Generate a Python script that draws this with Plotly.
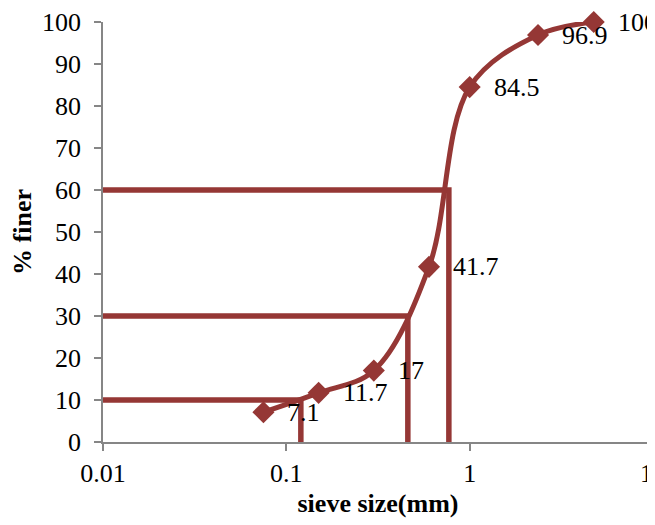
import math
import plotly.graph_objects as go

# Data
sieve_mm = [0.075, 0.15, 0.3, 0.6, 1.0, 2.36, 4.75]
percent_finer = [7.1, 11.7, 17, 41.7, 84.5, 96.9, 100]
label_text = ["7.1", "11.7", "17", "41.7", "84.5", "96.9", "100"]

d_levels = [10, 30, 60]          # D10, D30, D60
d_sizes = [0.12, 0.46, 0.77]     # corresponding sizes (mm)
x_origin = 0.01

x_tickvals = [0.01, 0.1, 1, 10]
x_ticktext = ["0.01", "0.1", "1", "10"]

COLOR = "#953735"
FONT = "Liberation Serif, Times New Roman, serif"
FS = 26

fig = go.Figure()

# D-lines
for lvl, d in zip(d_levels, d_sizes):
    fig.add_trace(go.Scatter(
        x=[x_origin, d, d], y=[lvl, lvl, 0], mode="lines",
        line=dict(color=COLOR, width=5.5), hoverinfo="skip", showlegend=False,
        cliponaxis=False))

# Gradation curve
fig.add_trace(go.Scatter(
    x=sieve_mm, y=percent_finer, mode="lines+markers",
    line=dict(color=COLOR, width=5, shape="spline", smoothing=1),
    marker=dict(symbol="diamond", size=17, color=COLOR),
    showlegend=False, cliponaxis=False))

for xv, yv, t in zip(sieve_mm, percent_finer, label_text):
    fig.add_annotation(x=math.log10(xv), y=yv, xref="x", yref="y", text=t, showarrow=False,
                       xanchor="left", yanchor="middle", xshift=22,
                       font=dict(family=FONT, size=FS, color="black"))

axis_common = dict(
    showgrid=False, zeroline=False, showline=True, linecolor="#868686", linewidth=1.5,
    ticks="outside", ticklen=7, tickcolor="#868686", tickwidth=1.5,
    tickfont=dict(family=FONT, size=FS, color="black"),
    ticklabeloverflow="allow",
)

fig.update_xaxes(type="log", range=[-2, 1], tickvals=x_tickvals, ticktext=x_ticktext,
                 title=dict(text="<b>sieve size(mm)</b>", font=dict(family=FONT, size=FS, color="black"),
                            standoff=7),
                 ticklabelstandoff=0, **axis_common)
fig.update_yaxes(range=[0, 100], dtick=10, tick0=0,
                 title=dict(text="<b>% finer</b>", font=dict(family=FONT, size=FS, color="black"),
                            standoff=24),
                 ticklabelstandoff=8, **axis_common)

fig.update_layout(
    width=655, height=525,
    margin=dict(l=95, r=10, t=14, b=91, autoexpand=False),
    plot_bgcolor="white", paper_bgcolor="white",
    font=dict(family=FONT, color="black"),
)

fig.write_html("out.html")
